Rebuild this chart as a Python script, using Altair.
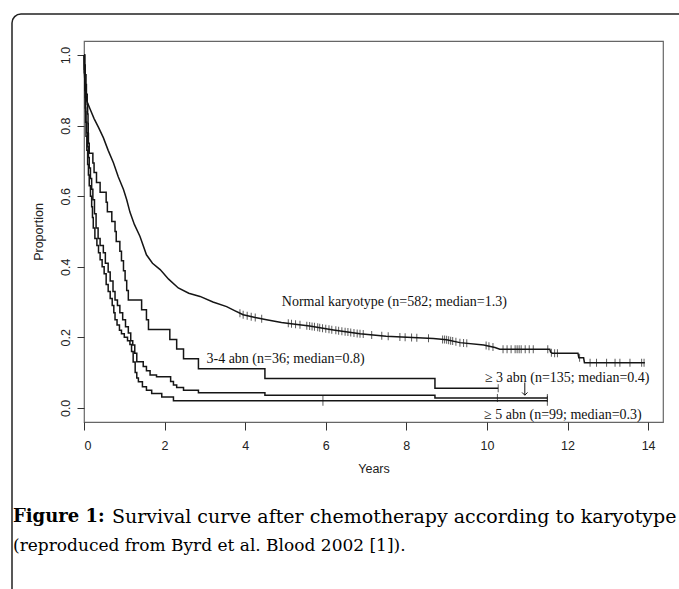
import altair as alt
import pandas as pd
import numpy as np

# ---------------- data ----------------
normal_t = [0, 0.01, 0.03, 0.07, 0.15, 0.25, 0.36, 0.48, 0.6, 0.73, 0.85, 0.98, 1.06, 1.14,
            1.25, 1.39, 1.55, 1.7, 1.89, 2.1, 2.34, 2.6, 2.88, 3.2, 3.54, 3.75, 3.95, 4.25,
            4.53, 4.9, 5.19, 5.6, 6.19, 6.85, 7.5, 8.67, 9.0, 9.33, 9.92, 10.2, 10.32, 11.56,
            11.58, 11.62, 12.26, 12.28, 12.40, 12.42, 13.92]
normal_p = [1.0, 0.95, 0.91, 0.87, 0.847, 0.82, 0.795, 0.766, 0.73, 0.695, 0.655, 0.619, 0.59,
            0.555, 0.52, 0.486, 0.434, 0.41, 0.392, 0.365, 0.34, 0.325, 0.316, 0.30, 0.287,
            0.275, 0.264, 0.256, 0.25, 0.242, 0.238, 0.232, 0.221, 0.21, 0.203, 0.197, 0.193,
            0.185, 0.178, 0.171, 0.166, 0.166, 0.158, 0.155, 0.155, 0.142, 0.142, 0.128, 0.128]
normal_cens = [3.87, 3.95, 4.05, 4.15, 4.25, 4.41, 5.07, 5.15, 5.25, 5.36, 5.53, 5.6, 5.66,
               5.72, 5.8, 5.85, 5.92, 6.0, 6.08, 6.15, 6.25, 6.32, 6.4, 6.48, 6.55, 6.62, 6.7,
               6.78, 6.85, 6.93, 7.14, 7.39, 7.55, 7.84, 7.97, 8.13, 8.26, 8.55, 8.9, 8.95,
               9.0, 9.05, 9.1, 9.15, 9.23, 9.33, 9.42, 9.5, 9.98, 10.05, 10.15, 10.4, 10.5,
               10.6, 10.7, 10.75, 10.8, 10.85, 10.95, 11.05, 11.15, 11.51, 11.6, 11.68, 11.75,
               12.3, 12.56, 12.72, 12.97, 13.18, 13.3, 13.55, 13.84, 13.9]

abn34_t = [0, 0.02, 0.03, 0.05, 0.06, 0.08, 0.09, 0.10, 0.105, 0.11, 0.13, 0.22, 0.25, 0.31,
           0.40, 0.55, 0.58, 0.69, 0.77, 0.80, 0.89, 0.93, 0.98, 1.02, 1.06, 1.10, 1.43, 1.55,
           1.60, 2.13, 2.30, 2.47, 2.84, 4.49, 8.71]
abn34_p = [1.0, 0.972, 0.944, 0.917, 0.889, 0.861, 0.833, 0.806, 0.778, 0.75, 0.722, 0.694,
           0.667, 0.639, 0.611, 0.583, 0.556, 0.528, 0.5, 0.472, 0.444, 0.417, 0.389, 0.361,
           0.333, 0.306, 0.278, 0.25, 0.222, 0.194, 0.167, 0.139, 0.111, 0.083, 0.056]
abn34_end = 10.28
abn34_cens = [10.28]

abn3_t = [0, 0.01, 0.02, 0.03, 0.04, 0.05, 0.07, 0.09, 0.11, 0.13, 0.16, 0.19, 0.22, 0.26,
          0.30, 0.35, 0.40, 0.48, 0.53, 0.60, 0.65, 0.72, 0.77, 0.83, 0.89, 0.96, 1.03, 1.10,
          1.16, 1.21, 1.26, 1.31, 1.47, 1.55, 1.64, 1.8, 2.15, 2.22, 2.3, 2.47, 2.84, 4.49, 8.71]
abn3_p = [1.0, 0.96, 0.92, 0.88, 0.84, 0.81, 0.78, 0.74, 0.71, 0.68, 0.65, 0.62, 0.59, 0.55,
          0.51, 0.48, 0.46, 0.44, 0.41, 0.385, 0.36, 0.33, 0.306, 0.29, 0.27, 0.25, 0.23,
          0.212, 0.19, 0.178, 0.155, 0.131, 0.117, 0.105, 0.093, 0.088, 0.075, 0.065, 0.058,
          0.05, 0.043, 0.036, 0.028]
abn3_end = 11.5
abn3_cens = [10.26, 11.5]

abn5_t = [0, 0.01, 0.02, 0.03, 0.04, 0.05, 0.07, 0.09, 0.11, 0.13, 0.16, 0.19, 0.21, 0.23,
          0.27, 0.32, 0.36, 0.40, 0.45, 0.50, 0.55, 0.60, 0.65, 0.70, 0.74, 0.77, 0.82, 0.88,
          0.93, 1.00, 1.08, 1.14, 1.18, 1.22, 1.27, 1.31, 1.35, 1.45, 1.55, 1.68, 1.93, 2.22]
abn5_p = [1.0, 0.95, 0.90, 0.85, 0.81, 0.77, 0.73, 0.69, 0.66, 0.63, 0.60, 0.57, 0.54, 0.51,
          0.48, 0.46, 0.44, 0.42, 0.40, 0.38, 0.35, 0.33, 0.31, 0.29, 0.27, 0.25, 0.235, 0.22,
          0.21, 0.20, 0.19, 0.18, 0.16, 0.13, 0.10, 0.085, 0.074, 0.06, 0.05, 0.041, 0.031, 0.02]
abn5_end = 11.5
abn5_cens = [5.93, 11.5]

label_text = ["Normal karyotype (n=582; median=1.3)", "3-4 abn (n=36; median=0.8)",
              "\u2265 3 abn (n=135; median=0.4)", "\u2265 5 abn (n=99; median=0.3)"]
label_t = [4.91, 3.04, 9.95, 9.93]
label_p = [0.30, 0.14, 0.084, -0.021]

arrow_t = [10.94]
arrow_from = [0.072]
arrow_to = [0.036]

x_ticks = [0, 2, 4, 6, 8, 10, 12, 14]
y_ticks = [0.0, 0.2, 0.4, 0.6, 0.8, 1.0]

caption_bold = "Figure 1:"
caption_line1 = "Survival curve after chemotherapy according to karyotype"
caption_line2 = "(reproduced from Byrd et al. Blood 2002 [1])."

# ---------------- tables ----------------
def step_table(name, t, p, end):
    tt = list(t) + [end]
    pp = list(p) + [p[-1]]
    return pd.DataFrame({"t": tt, "p": pp, "series": name, "o": range(len(tt))})

def step_value(t, p, c):
    idx = np.searchsorted(np.array(t), c, side="right") - 1
    return float(p[idx])

normal_df = pd.DataFrame({"t": normal_t, "p": normal_p, "series": "normal",
                          "o": range(len(normal_t))})
steps_df = pd.concat([step_table("abn34", abn34_t, abn34_p, abn34_end),
                      step_table("abn3", abn3_t, abn3_p, abn3_end),
                      step_table("abn5", abn5_t, abn5_p, abn5_end)])

cens_rows = [(c, float(np.interp(c, normal_t, normal_p)), 8) for c in normal_cens]
cens_rows += [(c, step_value(abn34_t, abn34_p, c), 8) for c in abn34_cens]
cens_rows += [(c, step_value(abn3_t, abn3_p, c), 8) for c in abn3_cens]
cens_rows += [(c, step_value(abn5_t, abn5_p, c), 10) for c in abn5_cens]
cens_df = pd.DataFrame(cens_rows, columns=["t", "p", "sz"])

labels_df = pd.DataFrame({"t": label_t, "p": label_p, "text": label_text})
arrow_df = pd.DataFrame({"t": arrow_t, "p": arrow_from, "p2": arrow_to})
one = pd.DataFrame({"a": [0]})

# ---------------- encodings ----------------
W, H = 579, 381
xs = alt.Scale(domain=[0, 14.37], nice=False, zero=False)
ys = alt.Scale(domain=[-0.04, 1.04], nice=False, zero=False)

x_axis = alt.Axis(values=x_ticks, format="d", domain=False, grid=False, tickSize=8,
                  tickColor="#333", tickWidth=1, labelFont="Liberation Sans",
                  labelFontSize=12.5, labelColor="#222", labelPadding=9,
                  title="Years", titleFont="Liberation Sans", titleFontSize=12.5,
                  titleFontWeight="normal", titleColor="#222", titleX=W / 2, titleY=46,
                  titleBaseline="middle", titleAlign="center")
y_axis = alt.Axis(values=y_ticks, format=".1f", domain=False, grid=False, tickSize=7,
                  tickColor="#333", tickWidth=1, labelFont="Liberation Sans",
                  labelFontSize=12.5, labelColor="#222", labelAngle=270, labelAlign="center",
                  labelBaseline="bottom", labelPadding=5,
                  title="Proportion", titleFont="Liberation Sans", titleFontSize=12.5,
                  titleFontWeight="normal", titleColor="#222", titleAngle=270,
                  titleX=-46, titleY=H / 2, titleBaseline="middle", titleAlign="center")

X = alt.X("t:Q", scale=xs, axis=x_axis)
Y = alt.Y("p:Q", scale=ys, axis=y_axis)

line_col = "#151515"

normal_line = alt.Chart(normal_df).mark_line(color=line_col, strokeWidth=1.5).encode(
    x=X, y=Y, order="o:Q")
step_lines = alt.Chart(steps_df).mark_line(color=line_col, strokeWidth=1.5,
                                           interpolate="step-after").encode(
    x=X, y=Y, detail="series:N", order="o:Q")
cens = alt.Chart(cens_df).mark_tick(orient="vertical", color=line_col, thickness=1).encode(
    x=X, y=Y, size=alt.Size("sz:Q", scale=None, legend=None))
labels = alt.Chart(labels_df).mark_text(font="Liberation Serif", fontSize=14, align="left",
                                        baseline="middle", color="#111").encode(
    x=X, y=Y, text="text:N")
arrow_line = alt.Chart(arrow_df).mark_rule(color=line_col, strokeWidth=1).encode(
    x=X, y=Y, y2="p2:Q")
arrow_head = alt.Chart(arrow_df).mark_point(shape="M -1 -1 L 0 0 L 1 -1", filled=False,
                                            size=30, color=line_col, strokeWidth=1,
                                            opacity=1).encode(
    x=X, y=alt.Y("p2:Q", scale=ys, axis=y_axis))

border = alt.Chart(one).mark_rect(fillOpacity=0, stroke="#222", strokeWidth=1.5,
                                  cornerRadius=9).encode(
    x=alt.value(-72), x2=alt.value(W + 40), y=alt.value(-27), y2=alt.value(H + 220))

cap_font = "DejaVu Serif"
cap_b = alt.Chart(one).mark_text(text=caption_bold, font=cap_font, fontSize=18,
                                 fontWeight="bold", align="left", baseline="middle",
                                 color="#000").encode(x=alt.value(-71), y=alt.value(476))
cap_1 = alt.Chart(one).mark_text(text=caption_line1, font=cap_font, fontSize=19,
                                 align="left", baseline="middle",
                                 color="#000").encode(x=alt.value(28), y=alt.value(476))
cap_2 = alt.Chart(one).mark_text(text=caption_line2, font=cap_font, fontSize=17,
                                 align="left", baseline="middle",
                                 color="#000").encode(x=alt.value(-71), y=alt.value(505))

chart = alt.layer(normal_line, step_lines, cens, labels, arrow_line, arrow_head,
                  border, cap_b, cap_1, cap_2).properties(
    width=W, height=H, autosize=alt.AutoSizeParams(type="none"),
    padding={"left": 84, "top": 41, "right": 16, "bottom": 167},
    background="white"
).configure_view(stroke="#666", strokeWidth=1.2)

chart.save("out.html", embed_options={"renderer": "svg", "actions": False})
